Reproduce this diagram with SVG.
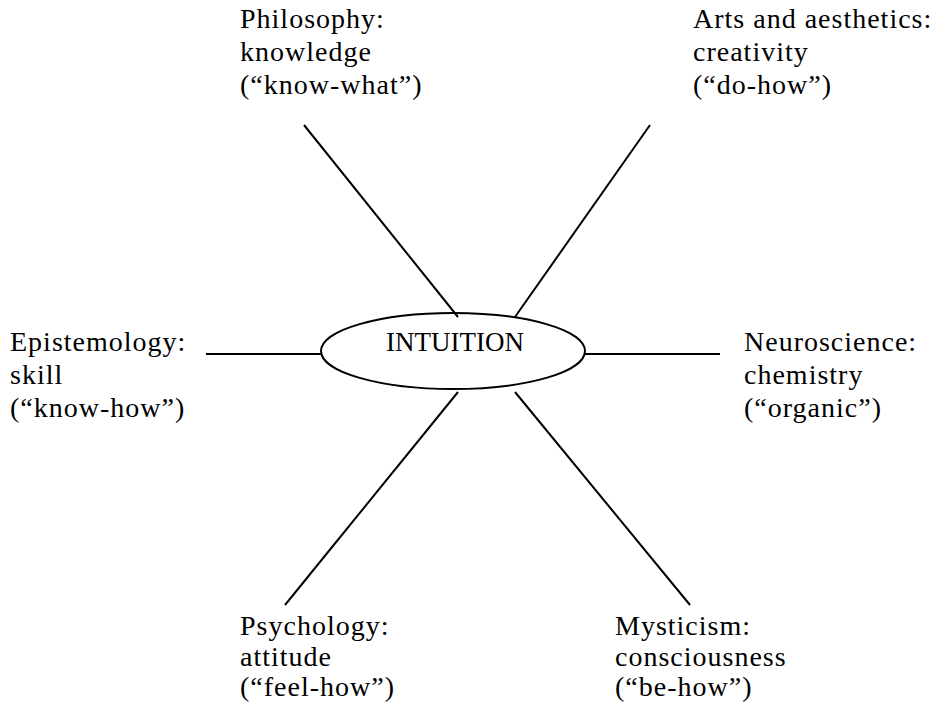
<svg xmlns="http://www.w3.org/2000/svg" width="945" height="704" viewBox="0 0 945 704">
<style>
text{font-family:"Liberation Serif","Times New Roman",serif;font-size:28px;letter-spacing:1px;fill:#000}
.c{text-anchor:middle;letter-spacing:0;font-size:27px}
line,ellipse{stroke:#000;stroke-width:2;fill:none}
</style>
<rect width="945" height="704" fill="#fff"/>
<g id="connectors">
<line x1="304" y1="125" x2="458" y2="317"/>
<line x1="650" y1="125" x2="515" y2="317"/>
<line x1="206" y1="354" x2="321" y2="354"/>
<line x1="585" y1="354" x2="720" y2="354"/>
<line x1="458" y1="392" x2="285" y2="605"/>
<line x1="515" y1="392" x2="690" y2="605"/>
</g>
<g id="intuition">
<ellipse cx="453" cy="351" rx="132" ry="38"/>
<text class="c" x="455" y="351">INTUITION</text>
</g>
<g id="philosophy">
<text x="240" y="28">Philosophy:</text>
<text x="240" y="61">knowledge</text>
<text x="240" y="94">(“know-what”)</text>
</g>
<g id="arts">
<text x="693" y="28">Arts and aesthetics:</text>
<text x="693" y="61">creativity</text>
<text x="693" y="94">(“do-how”)</text>
</g>
<g id="epistemology">
<text x="10" y="351">Epistemology:</text>
<text x="10" y="384">skill</text>
<text x="10" y="417">(“know-how”)</text>
</g>
<g id="neuroscience">
<text x="744" y="351">Neuroscience:</text>
<text x="744" y="384">chemistry</text>
<text x="744" y="417">(“organic”)</text>
</g>
<g id="psychology">
<text x="240" y="635">Psychology:</text>
<text x="240" y="666">attitude</text>
<text x="240" y="696">(“feel-how”)</text>
</g>
<g id="mysticism">
<text x="615" y="635">Mysticism:</text>
<text x="615" y="666">consciousness</text>
<text x="615" y="696">(“be-how”)</text>
</g>
</svg>
